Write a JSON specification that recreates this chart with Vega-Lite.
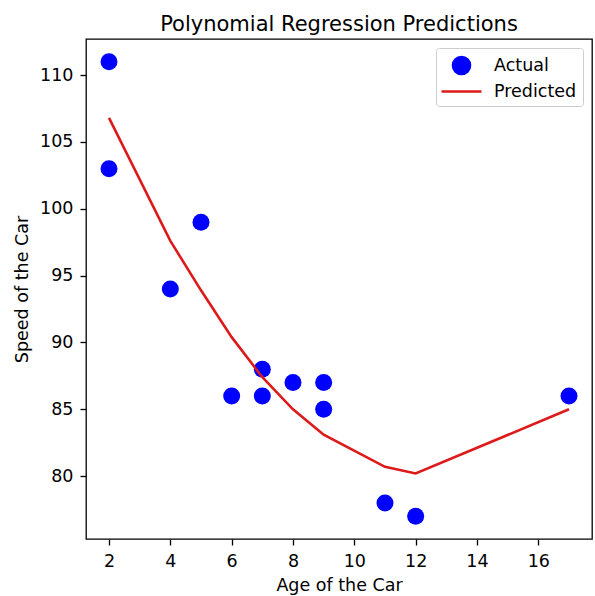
{
  "$schema": "https://vega.github.io/schema/vega-lite/v6.json",
  "width": 506,
  "height": 500,
  "autosize": {"type": "none"},
  "padding": {"left": 86, "top": 39, "right": 3, "bottom": 57},
  "background": "white",
  "title": {"text": "Polynomial Regression Predictions", "fontSize": 21, "font": "DejaVu Sans", "fontWeight": "normal", "color": "black", "offset": 4},
  "config": {
    "view": {"stroke": "black", "strokeWidth": 1.3},
    "axis": {
      "domain": false, "grid": false,
      "tickSize": 6, "tickWidth": 1.3, "tickColor": "black",
      "labelFont": "DejaVu Sans", "labelFontSize": 17.5, "labelColor": "black", "labelPadding": 7, "labelFlush": false,
      "titleFont": "DejaVu Sans", "titleFontSize": 17.5, "titleFontWeight": "normal", "titleColor": "black"
    }
  },
  "datasets": {
    "actual": [
      {"age": 5, "speed": 99, "series": "Actual"},
      {"age": 7, "speed": 86, "series": "Actual"},
      {"age": 8, "speed": 87, "series": "Actual"},
      {"age": 7, "speed": 88, "series": "Actual"},
      {"age": 2, "speed": 111, "series": "Actual"},
      {"age": 17, "speed": 86, "series": "Actual"},
      {"age": 2, "speed": 103, "series": "Actual"},
      {"age": 9, "speed": 87, "series": "Actual"},
      {"age": 4, "speed": 94, "series": "Actual"},
      {"age": 11, "speed": 78, "series": "Actual"},
      {"age": 12, "speed": 77, "series": "Actual"},
      {"age": 9, "speed": 85, "series": "Actual"},
      {"age": 6, "speed": 86, "series": "Actual"}
    ],
    "predicted": [
      {"age": 2, "speed": 106.8, "series": "Predicted"},
      {"age": 4, "speed": 97.6, "series": "Predicted"},
      {"age": 5, "speed": 93.9, "series": "Predicted"},
      {"age": 6, "speed": 90.4, "series": "Predicted"},
      {"age": 7, "speed": 87.4, "series": "Predicted"},
      {"age": 8, "speed": 85.0, "series": "Predicted"},
      {"age": 9, "speed": 83.1, "series": "Predicted"},
      {"age": 11, "speed": 80.7, "series": "Predicted"},
      {"age": 12, "speed": 80.2, "series": "Predicted"},
      {"age": 17, "speed": 85.0, "series": "Predicted"}
    ]
  },
  "encoding": {
    "x": {"field": "age", "type": "quantitative", "scale": {"domain": [1.25, 17.75], "nice": false, "zero": false},
          "axis": {"values": [2, 4, 6, 8, 10, 12, 14, 16], "title": "Age of the Car", "titlePadding": 7}},
    "y": {"field": "speed", "type": "quantitative", "scale": {"domain": [75.3, 112.7], "nice": false, "zero": false},
          "axis": {"values": [80, 85, 90, 95, 100, 105, 110], "title": "Speed of the Car", "titlePadding": 8}},
    "color": {"field": "series", "type": "nominal",
              "scale": {"domain": ["Actual", "Predicted"], "range": ["#0000ff", "#dd1a1a"]},
              "legend": {
                "title": null, "orient": "top-right", "offset": 9, "padding": 6, "rowPadding": 0,
                "fillColor": "white", "strokeColor": "#cccccc", "cornerRadius": 3,
                "symbolSize": 400, "symbolOffset": 8, "labelOffset": 21,
                "labelFont": "DejaVu Sans", "labelFontSize": 17.5, "labelColor": "black",
                "symbolStrokeWidth": 2.6,
                "encode": {"symbols": {"update": {
                  "shape": {"signal": "datum.value === 'Predicted' ? 'M-2,0L2,0' : 'M-0.85,0A0.85,0.85 0 1,0 0.85,0A0.85,0.85 0 1,0 -0.85,0'"},
                  "fill": {"signal": "datum.value === 'Predicted' ? 'transparent' : '#0000ff'"},
                  "stroke": {"signal": "datum.value === 'Predicted' ? '#dd1a1a' : 'transparent'"},
                  "opacity": {"value": 1}
                }}}
              }}
  },
  "layer": [
    {
      "data": {"name": "actual"},
      "mark": {"type": "point", "filled": true, "shape": "circle", "size": 289, "opacity": 1}
    },
    {
      "data": {"name": "predicted"},
      "mark": {"type": "line", "strokeWidth": 2.6}
    }
  ]
}
